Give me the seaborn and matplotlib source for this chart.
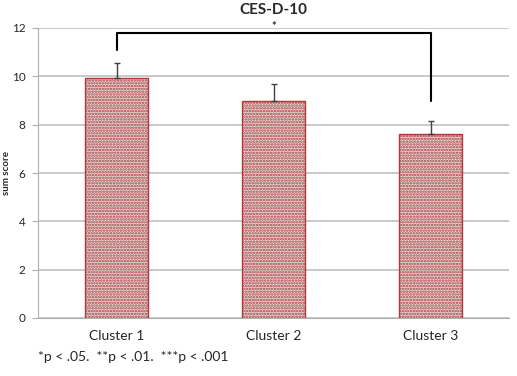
import pandas as pd
import matplotlib.pyplot as plt
import seaborn as sns
import numpy as np

# data
clusters = ["Cluster 1", "Cluster 2", "Cluster 3"]
means = [9.92, 8.98, 7.61]
err_up = [0.65, 0.70, 0.55]
yticks = [0, 2, 4, 6, 8, 10, 12]

df = pd.DataFrame({"cluster": clusters, "score": means})

sns.set_style("white")
plt.rcParams['font.family'] = ['Lato', 'DejaVu Sans']
plt.rcParams['hatch.linewidth'] = 1.2

fig = plt.figure(figsize=(5.17, 3.76), dpi=100)
ax = fig.add_axes([38 / 517, 1 - 318 / 376, 471 / 517, 290 / 376])

sns.barplot(data=df, x="cluster", y="score", ax=ax, width=0.4,
            color="#e2d8d8", edgecolor="#a83232", linewidth=1.0,
            hatch="......", zorder=2, errorbar=None)
for p in ax.patches:
    p.set_edgecolor("#b03a3a")

# error bars (upper only)
xs = np.arange(len(clusters))
ax.errorbar(xs, means, yerr=[np.zeros(len(means)), err_up], fmt="none",
            ecolor="#404040", elinewidth=1.0, capsize=2.5, capthick=1.0, zorder=3)

# significance bracket between cluster 1 and 3
y_br = 11.8
ax.plot([0, 0, 2, 2], [11.1, y_br, y_br, 9.0], color="black", lw=1.5, zorder=4,
        clip_on=False)
ax.text(1, 12.05, "*", ha="center", va="center", fontsize=8, fontweight="bold")

ax.set_ylim(0, 12)
ax.set_xlim(-0.5, 2.5)
ax.set_yticks(yticks)
ax.set_yticklabels([str(t) for t in yticks], fontsize=8.5)
ax.yaxis.grid(True, color="#c0c0c0", lw=1.2, zorder=0)
ax.set_axisbelow(True)

for s in ["top", "right"]:
    ax.spines[s].set_visible(False)
ax.spines["left"].set_color("#b0b0b0")
ax.spines["bottom"].set_color("#b0b0b0")

# x ticks at category boundaries
ax.set_xticks([-0.5, 0.5, 1.5, 2.5], minor=False)
ax.set_xticklabels([])
ax.set_xticks(xs, minor=True)
ax.set_xticklabels(clusters, minor=True, fontsize=10)
ax.tick_params(axis="x", which="major", length=5, color="#b0b0b0", direction="out")
ax.tick_params(axis="x", which="minor", length=0, pad=9)
ax.tick_params(axis="y", length=4, color="#b0b0b0", direction="out", left=True, pad=5)

ax.set_xlabel("")
ax.set_ylabel("sum score", fontsize=7, fontweight="bold")
ax.yaxis.set_label_coords(-0.058, 0.5)
ax.set_title("CES-D-10", fontsize=11, fontweight="bold", pad=10)

fig.text(38 / 517, 1 - 357 / 376, "*p < .05.  **p < .01.  ***p < .001",
         fontsize=10, va="center", ha="left")

fig.savefig("out.png", dpi=100)
